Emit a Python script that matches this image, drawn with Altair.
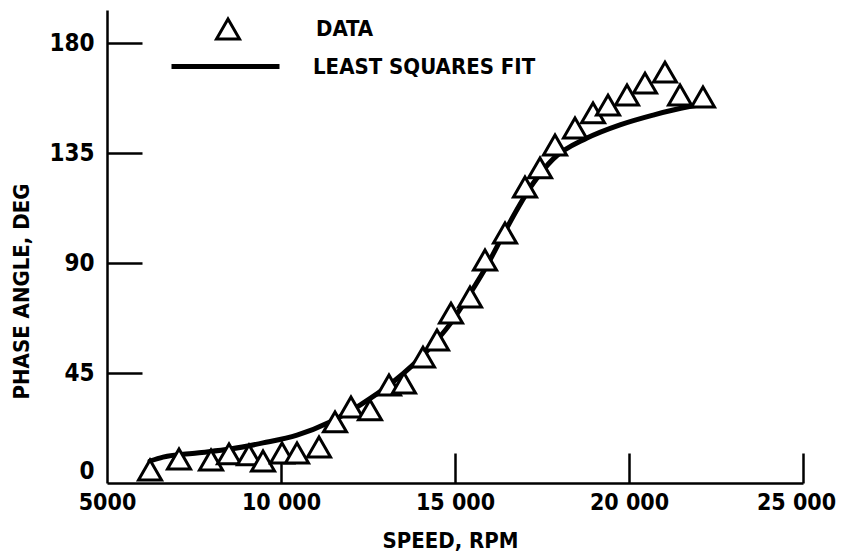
import altair as alt
import pandas as pd

# ---- data ----
speed_data = [6236, 7069, 7989, 8506, 9080, 9483, 10029, 10460, 11092,
              11552, 12011, 12557, 13103, 13534, 14080, 14483, 14885, 15431,
              15862, 16437, 17011, 17443, 17874, 18448, 18966, 19397, 19943,
              20460, 21034, 21466, 22126]
phase_data = [5.3, 9.8, 9.4, 11.9, 11.5, 9.0, 12.3, 12.3, 14.7,
              25.0, 31.1, 29.9, 40.1, 40.9, 51.5, 58.5, 69.5, 76.1,
              91.2, 102.3, 121.1, 128.9, 138.3, 145.2, 151.4, 154.6, 158.7,
              163.6, 168.1, 158.7, 157.9]

speed_fit = [6236, 6609, 7586, 8534, 9483, 10460, 11408, 12270, 13218, 14195,
             14856, 15431, 15920, 16494, 17241, 17816, 18793, 19741, 20690,
             21667, 22040]
phase_fit = [9.0, 10.6, 12.3, 13.9, 16.4, 19.6, 25.0, 31.9, 41.3, 54.0,
             65.0, 77.5, 89.0, 104.5, 122.5, 132.5, 141.1, 146.5, 150.5,
             153.8, 154.6]

x_ticks = [5000, 10000, 15000, 20000, 25000]
y_ticks = [0, 45, 90, 135, 180]
data_name = "DATA"
fit_name = "LEAST SQUARES FIT"

X_DOMAIN = [5000, 25000]
Y_DOMAIN = [0, 193.5]
W, H = 696, 473
FONT = "'Liberation Sans Narrow', 'DejaVu Sans Condensed', sans-serif"

df_pts = pd.DataFrame({"speed": speed_data, "phase": phase_data,
                       "series": data_name})
df_fit = pd.DataFrame({"speed": speed_fit, "phase": phase_fit,
                       "fit": fit_name})

xs = alt.Scale(domain=X_DOMAIN, nice=False, zero=False)
ys = alt.Scale(domain=Y_DOMAIN, nice=False, zero=False)

legend_common = dict(orient="none", title=None, padding=0,
                     labelFont=FONT, labelFontSize=22, labelFontWeight="bold",
                     labelColor="black", labelBaseline="middle",
                     labelLimit=400)

fit = alt.Chart(df_fit).mark_line(
    strokeWidth=5, interpolate="monotone", strokeCap="round"
).encode(
    x=alt.X("speed:Q", scale=xs, axis=alt.Axis(
        orient="bottom", values=x_ticks, ticks=False, grid=False,
        domainColor="black", domainWidth=2.5,
        labelExpr="datum.value == 5000 ? '5000' : format(datum.value/1000, 'd') + ' 000'",
        labelFont=FONT, labelFontSize=23, labelFontWeight="bold",
        labelColor="black", labelPadding=8, labelFlush=False,
        labelOffset={"condition": {"test": "datum.value == 25000", "value": -7},
                     "value": 0},
        title="SPEED, RPM", titleFont=FONT, titleFontSize=22,
        titleFontWeight="bold", titleColor="black",
        titleX=343, titleY=57, titleBaseline="middle", titleAlign="center")),
    y=alt.Y("phase:Q", scale=ys, axis=alt.Axis(
        orient="left", values=y_ticks, ticks=False, grid=False,
        domainColor="black", domainWidth=2.5,
        labelFont=FONT, labelFontSize=24, labelFontWeight="bold",
        labelColor="black", labelPadding=13, labelFlush=True,
        title="PHASE ANGLE, DEG", titleFont=FONT, titleFontSize=22,
        titleFontWeight="bold", titleColor="black", titleAngle=270,
        titleX=-86, titleY=281, titleBaseline="middle", titleAlign="center")),
    stroke=alt.Stroke("fit:N", scale=alt.Scale(domain=[fit_name], range=["black"]),
                      legend=alt.Legend(legendX=62, legendY=0,
                                        symbolSize=11664, symbolStrokeWidth=5,
                                        symbolType="stroke", labelOffset=31,
                                        **legend_common)),
)

pts = alt.Chart(df_pts).mark_point(
    shape="triangle-up", filled=False, fill="white", strokeWidth=3, size=529,
    opacity=1
).encode(
    x=alt.X("speed:Q", scale=xs, axis=alt.Axis(
        orient="top", offset=-H, values=x_ticks[1:], labels=False,
        domain=False, grid=False, tickSize=30, tickWidth=2.5,
        tickColor="black", title=None)),
    y=alt.Y("phase:Q", scale=ys, axis=alt.Axis(
        orient="right", offset=-W, values=y_ticks[1:], labels=False,
        domain=False, grid=False, tickSize=35, tickWidth=2.5,
        tickColor="black", title=None)),
    color=alt.Color("series:N",
                    scale=alt.Scale(domain=[data_name], range=["black"]),
                    legend=alt.Legend(legendX=108, legendY=6,
                                      symbolType="triangle-up",
                                      symbolSize=529, symbolStrokeWidth=3,
                                      symbolOpacity=1, labelOffset=75,
                                      **legend_common)),
)

chart = alt.layer(fit, pts).resolve_scale(
    x="independent", y="independent"
).properties(
    width=W, height=H, autosize="none",
    padding={"left": 99, "top": 2, "right": 34, "bottom": 72},
    background="white",
).configure_view(stroke=None)

chart.save("out.html", embed_options={"renderer": "svg", "actions": False})
